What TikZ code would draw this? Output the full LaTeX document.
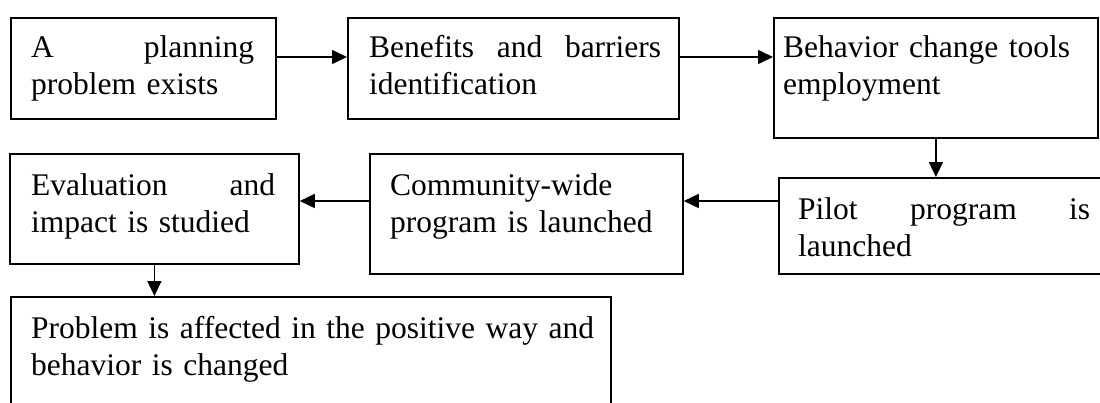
\documentclass[tikz,border=0pt]{standalone}
\usepackage{fontspec}
\setmainfont{Liberation Serif}
\usetikzlibrary{arrows.meta}
\begin{document}
\begin{tikzpicture}[x=1pt,y=-1pt,
  box/.style={draw, line width=1.8pt, rectangle, inner sep=0pt, anchor=north west},
  txt/.style={anchor=north west, inner sep=0pt, align=left, font=\fontsize{31.5}{37}\selectfont},
  arr/.style={line width=1.6pt, -{Triangle[length=15pt,width=14pt]}}]
\useasboundingbox (0,0) rectangle (1100,402);
\clip (0,0) rectangle (1100,402);
% boxes
\node[box, minimum width=265pt, minimum height=101pt] (b1) at (10,17) {};
\node[box, minimum width=331pt, minimum height=101pt] (b2) at (347,17) {};
\node[box, minimum width=324pt, minimum height=120pt] (b3) at (773,17) {};
\node[box, minimum width=340pt, minimum height=96pt] (p) at (778,177) {};
\node[box, minimum width=313pt, minimum height=120pt] (c) at (369,153) {};
\node[box, minimum width=289pt, minimum height=110pt] (e) at (9,153) {};
\node[box, minimum width=600pt, minimum height=140pt] (f) at (10,296) {};
% texts
\node[txt, text width=223pt] (t1) at (31,31) {\strut A\hfill planning\\problem exists};
\node[txt, text width=292pt] (t2) at (369,31) {\strut Benefits\hfill and\hfill barriers\\identification};
\node[txt, text width=300pt] (t3) at (783,31) {\strut Behavior change tools\\employment};
\node[txt, text width=292pt] (tp) at (798,193) {\strut Pilot\hfill program\hfill is\\launched};
\node[txt, text width=280pt] (tc) at (390,169) {\strut Community-wide\\program is launched};
\node[txt, text width=244pt] (te) at (31,169) {\strut Evaluation\hfill and\\impact is studied};
\node[txt, text width=570pt] (tf) at (31,312) {\strut Problem is affected in the positive way and\\behavior is changed};
% connectors
\draw[arr] ([yshift=-40pt]b1.north east) -- ([yshift=-40pt]b2.north west);
\draw[arr] ([yshift=-40pt]b2.north east) -- ([yshift=-40pt]b3.north west);
\draw[arr] (b3.south) -- (b3.south |- p.north);
\draw[arr] ([yshift=-24pt]p.north west) -- ([yshift=-48pt]c.north east);
\draw[arr] ([yshift=-48pt]c.north west) -- ([yshift=-48pt]e.north east);
\draw[arr] (e.south) -- (e.south |- f.north);
\end{tikzpicture}
\end{document}
